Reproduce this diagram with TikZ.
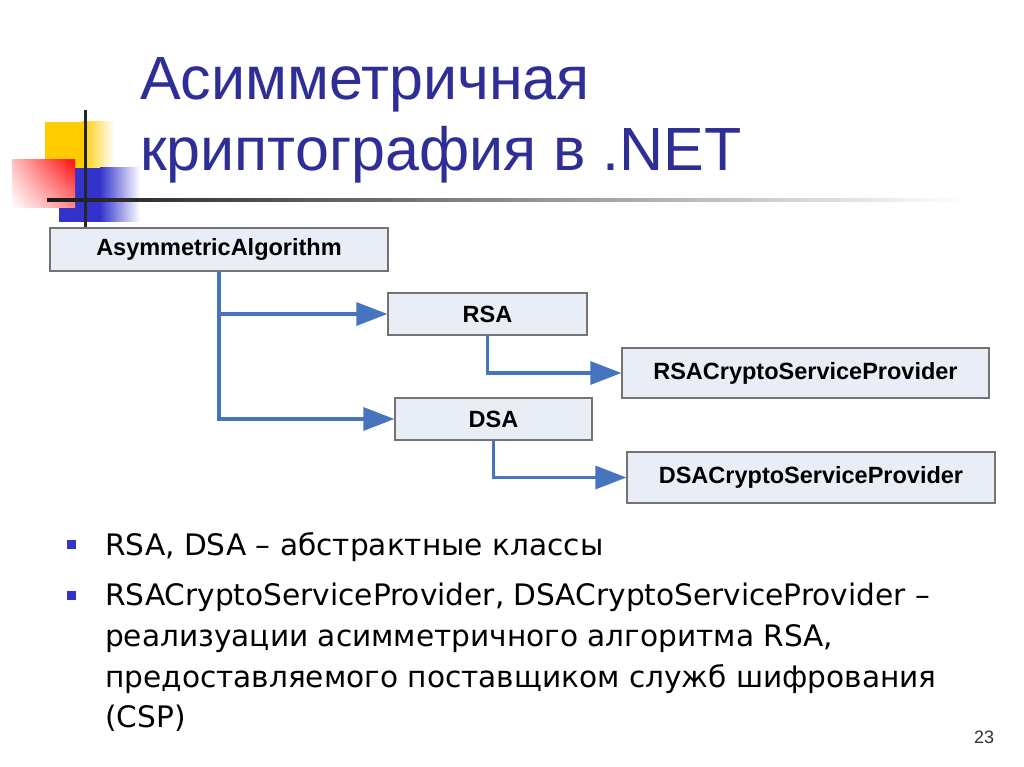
\documentclass[tikz,border=0pt]{standalone}
\usepackage{fontspec}
\setmainfont{Liberation Sans}
\newfontfamily\bodyfont{DejaVu Sans}
\usetikzlibrary{arrows.meta,shadings}
\definecolor{titleblue}{RGB}{46,46,150}
\definecolor{boxfill}{RGB}{233,237,246}
\definecolor{conn}{RGB}{70,116,190}
\definecolor{bulletblue}{RGB}{51,51,204}
\definecolor{decoyellow}{RGB}{255,204,0}
\definecolor{decoblue}{RGB}{51,51,204}
\begin{document}
\begin{tikzpicture}[x=1pt,y=-1pt,
  cls/.style={draw=black!55, line width=1.2pt, fill=boxfill, inner sep=0pt,
    font=\bfseries\fontsize{23.5}{26}\selectfont},
  link/.style={draw=conn, line width=3.2pt, -{Triangle[length=31pt,width=23pt]}},
  title/.style={anchor=base west, inner sep=0pt, text=titleblue, font=\fontsize{61}{70}\selectfont},
  body/.style={anchor=base west, inner sep=0pt, font=\bodyfont\fontsize{29.6}{40}\selectfont},
  bul/.style={fill=bulletblue, minimum size=9pt, inner sep=0pt}]
\useasboundingbox (0,0) rectangle (1024,767);
\fill[white] (0,0) rectangle (1024,767);
% decoration
\fill[decoyellow] (45,122) rectangle (82,172);
\shade[left color=decoyellow, right color=white] (82,122) rectangle (114,172);
\fill[decoblue] (59,168) rectangle (100,222);
\shade[left color=decoblue, right color=white] (100,168) rectangle (140,222);
\shade[upper right=red!95, upper left=red!25, lower right=red!45, lower left=white] (12,160) rectangle (75,208);
\shade[left color=black!90, right color=white] (47,198.5) rectangle (965,201.5);
\fill[black!85] (83.5,110) rectangle (86.5,227);
% title
\node[title] (t1) at (140,100) {Асимметричная};
\node[title] (t2) at (140,171) {криптография в .NET};
% class boxes
\node[cls, minimum width=338pt, minimum height=43pt] (aa) at (219,249.5) {AsymmetricAlgorithm};
\node[cls, minimum width=199pt, minimum height=42pt] (rsa) at (487.5,314) {RSA};
\node[cls, minimum width=367pt, minimum height=50pt] (rsacsp) at (805.5,373) {RSACryptoServiceProvider};
\node[cls, minimum width=197pt, minimum height=42pt] (dsa) at (493.5,419) {DSA};
\node[cls, minimum width=368pt, minimum height=51pt] (dsacsp) at (811,477.5) {DSACryptoServiceProvider};
% connectors
\draw[link] (aa.south) |- (rsa.west);
\draw[link] (aa.south) |- (dsa.west);
\draw[link] (rsa.south) |- (rsacsp.west);
\draw[link] (dsa.south) |- (dsacsp.west);
% bullets
\node[bul] (b1) at (71.5,544.5) {};
\node[bul] (b2) at (71.5,595.5) {};
\node[body] (l1) at (105,555) {RSA, DSA – абстрактные классы};
\node[body] (l2) at (105,605) {RSACryptoServiceProvider, DSACryptoServiceProvider –};
\node[body] (l3) at (105,646) {реализуации асимметричного алгоритма RSA,};
\node[body] (l4) at (105,687) {предоставляемого поставщиком служб шифрования};
\node[body] (l5) at (105,727) {(CSP)};
\node[font=\fontsize{18}{20}\selectfont, text=black!80] (pg) at (984,737) {23};
\end{tikzpicture}
\end{document}
